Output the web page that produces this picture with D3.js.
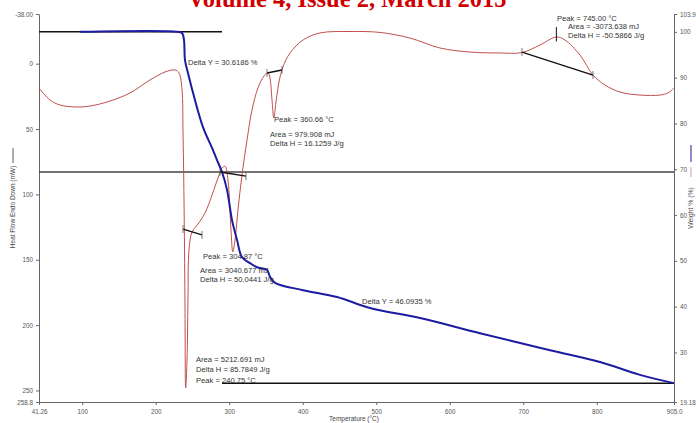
<!DOCTYPE html>
<html>
<head>
<meta charset="utf-8">
<script src="https://cdn.jsdelivr.net/npm/d3@7"></script>
<style>
  body { margin: 0; background: #fff; }
  svg { display: block; }
  text { font-family: "Liberation Sans", Arial, sans-serif; }
</style>
</head>
<body>
<svg id="chart" width="696" height="423"></svg>
<script>
// ---- data ----------------------------------------------------------------
// Heat flow (mW, endo down) vs temperature (°C)
const heatT = [41.26, 56.2, 69.8, 90.2, 110.6, 137.8, 165.0, 192.2, 212.6, 226.2, 231.7, 235.8, 237.1, 238.5, 239.8, 240.75,
  242.6, 243.9, 245.3, 249.4, 257.5, 267.1, 276.6, 284.7, 290.2, 294.3, 298.3, 302.4, 304.87, 307.9, 311.9, 317.4, 324.2,
  331.0, 339.1, 347.3, 352.7, 355.4, 358.2, 360.66, 363.6, 367.7, 373.1, 382.7, 400.4, 423.5, 464.3, 505.1, 545.9,
  586.7, 627.5, 668.3, 698.2, 722.7, 745.0, 756.7, 777.1, 794.8, 811.1, 831.5, 858.7, 885.9, 896.8, 905.0];
const heatFlow = [18.6, 27.8, 31.6, 33.1, 32.4, 28.6, 22.4, 12.5, 6.4, 4.8, 7.1, 20.1, 50.7, 104.3, 180.8, 248.1,
  226.7, 180.8, 142.5, 128.8, 122.7, 114.2, 100.5, 87.5, 79.8, 78.5, 89.0, 127.2, 144.0, 134.9, 111.9, 85.2, 58.4,
  35.4, 18.6, 9.4, 7.1, 11.0, 27.8, 41.6, 29.4, 14.0, 2.5, -8.2, -18.1, -23.5, -24.6, -23.9, -19.6,
  -12.0, -8.9, -8.2, -8.5, -14.3, -20.4, -18.1, -6.6, 8.7, 16.3, 21.7, 24.0, 24.0, 22.4, 18.6];

// Weight % vs temperature (°C)
const weightT = [97.0, 230.0, 236.0, 238.5, 239.8, 243.9, 253.4, 264.3, 277.9, 283.4, 290.2, 297.0, 303.8, 310.6, 317.4,
  328.3, 337.8, 351.4, 355.5, 362.3, 400.4, 446.6, 491.5, 559.5, 641.1, 736.3, 804.3, 858.7, 905.0];
const weightPct = [100.0, 100.0, 99.7, 98.2, 93.9, 91.0, 85.1, 79.2, 74.2, 72.0, 69.4, 65.5, 58.9, 54.6, 50.8,
  49.5, 48.6, 48.0, 46.5, 45.2, 43.6, 42.1, 39.7, 37.5, 34.2, 30.5, 27.9, 25.1, 23.3];

// Integration baselines for the heat-flow peaks: [T1, v1, T2, v2]
const baselines = [
  [237.1, 126.5, 263.0, 131.0],
  [287.5, 82.9, 322.8, 86.0],
  [351.4, 7.1, 371.8, 4.8],
  [698.2, -8.9, 794.8, 8.7]
];

// Weight step levels (Delta Y = 30.6186 %, then 46.0935 %)
const stepLevels = [
  { from: 41.26, to: 290.2, w: 100 },
  { from: 41.26, to: 905.0, w: 100 - 30.6186 },
  { from: 290.2, to: 905.0, w: 100 - 30.6186 - 46.0935 }
];

// Axis ticks
const tempTicks = [41.26, 100, 200, 300, 400, 500, 600, 700, 800, 905.0];
const tempTickLabels = ["41.26", "100", "200", "300", "400", "500", "600", "700", "800", "905.0"];
const heatTicks = [-38, 0, 50, 100, 150, 200, 250, 258.8];
const heatTickLabels = ["-38.00", "0", "50", "100", "150", "200", "250", "258.8"];
const weightTicks = [103.9, 100, 90, 80, 70, 60, 50, 40, 30, 19.18];
const weightTickLabels = ["103.9", "100", "90", "80", "70", "60", "50", "40", "30", "19.18"];

// Peak annotations: anchor temperature (°C) / heat flow (mW) of the first line, line gap (px)
const notes = [
  { T: 243.9, v: 1.0, gap: 8.5, lines: ["Delta Y = 30.6186 %"] },
  { T: 360.9, v: 44.6, gap: 8.5, lines: ["Peak = 360.66 °C"] },
  { T: 355.5, v: 56.1, gap: 8.5, lines: ["Area = 979.908 mJ", "Delta H = 16.1259 J/g"] },
  { T: 264.3, v: 149.4, gap: 8.5, lines: ["Peak = 304.87 °C"] },
  { T: 260.3, v: 160.1, gap: 9.5, lines: ["Area = 3040.677 mJ", "Delta H = 50.0441 J/g"] },
  { T: 480.6, v: 183.9, gap: 8.5, lines: ["Delta Y = 46.0935 %"] },
  { T: 254.8, v: 228.0, gap: 10.5, lines: ["Area = 5212.691 mJ", "Delta H = 85.7849 J/g", "Peak = 240.75 °C"] },
  { T: 745.8, v: -32.6, gap: 8.5, lines: ["Peak = 745.00 °C"] },
  { T: 760.8, v: -26.5, gap: 8.5, lines: ["Area = -3073.638 mJ", "Delta H = -50.5866 J/g"] }
];

// ---- scales ----------------------------------------------------------------
const svg = d3.select("#chart");
const L = 39, R = 674, T0 = 14, B = 402;

const x = d3.scaleLinear().domain([41.26, 905.0]).range([L, R]);
const yHeat = d3.scaleLinear().domain([-38, 258.8]).range([T0, B]);
const yW = d3.scaleLinear().domain([19.18, 103.9]).range([B, T0]);

// ---- header --------------------------------------------------------------
svg.append("text")
  .attr("x", 347).attr("y", 7)
  .attr("text-anchor", "middle")
  .style("font-family", "'Liberation Serif', 'Times New Roman', serif")
  .style("font-weight", "bold")
  .style("font-size", "24.5px")
  .attr("fill", "#d00000")
  .text("Volume 4, Issue 2, March 2015");

// ---- axes ------------------------------------------------------------------
const axisStyle = g => {
  g.selectAll("path.domain").attr("stroke", "#666").attr("stroke-width", 1);
  g.selectAll(".tick line").attr("stroke", "#666");
  g.selectAll(".tick text").attr("fill", "#555").style("font-size", "6.3px")
    .style("font-family", "'Liberation Sans', Arial, sans-serif");
};

svg.append("g").attr("transform", `translate(${L},0)`)
  .call(d3.axisLeft(yHeat).tickValues(heatTicks).tickSize(3).tickSizeOuter(0)
    .tickFormat((d, i) => heatTickLabels[i]))
  .call(axisStyle);

svg.append("g").attr("transform", `translate(${R},0)`)
  .call(d3.axisRight(yW).tickValues(weightTicks).tickSize(3).tickSizeOuter(0)
    .tickFormat((d, i) => weightTickLabels[i]))
  .call(axisStyle);

svg.append("g").attr("transform", `translate(0,${B})`)
  .call(d3.axisBottom(x).tickValues(tempTicks).tickSize(3).tickSizeOuter(0)
    .tickFormat((d, i) => tempTickLabels[i]))
  .call(axisStyle)
  .call(g => g.selectAll(".tick text").attr("dy", "0.9em"));

// axis titles
svg.append("text")
  .attr("x", 354).attr("y", 421).attr("text-anchor", "middle")
  .attr("fill", "#444").style("font-size", "6.5px")
  .text("Temperature (°C)");

svg.append("text")
  .attr("transform", "translate(15,207) rotate(-90)")
  .attr("text-anchor", "middle").attr("fill", "#444").style("font-size", "6.5px")
  .text("Heat Flow Endo Down (mW)");
svg.append("line").attr("x1", 13).attr("x2", 13).attr("y1", 148).attr("y2", 163)
  .attr("stroke", "#333").attr("stroke-width", 0.8);

svg.append("text")
  .attr("transform", "translate(693,208) rotate(-90)")
  .attr("text-anchor", "middle").attr("fill", "#444").style("font-size", "6.8px")
  .text("Weight % (%)");
svg.append("line").attr("x1", 691).attr("x2", 691).attr("y1", 145).attr("y2", 162)
  .attr("stroke", "#1c1c9c").attr("stroke-width", 1);
svg.append("line").attr("x1", 691).attr("x2", 691).attr("y1", 167).attr("y2", 177)
  .attr("stroke", "#d9a0a0").attr("stroke-width", 1);

// ---- weight step levels ----------------------------------------------------
svg.append("g").selectAll("line").data(stepLevels).join("line")
  .attr("x1", d => x(d.from)).attr("x2", d => x(d.to))
  .attr("y1", d => yW(d.w)).attr("y2", d => yW(d.w))
  .attr("stroke", (d, i) => i === 1 ? "#444" : "#111")
  .attr("stroke-width", 1.5);

// ---- heat flow curve ------------------------------------------------------
const heatLine = d3.line()
  .x((d, i) => x(heatT[i])).y((d, i) => yHeat(heatFlow[i]))
  .curve(d3.curveCatmullRom.alpha(0.5));
svg.append("path").datum(heatFlow)
  .attr("d", heatLine)
  .attr("fill", "none").attr("stroke", "#c0504d").attr("stroke-width", 1);

// ---- weight curve ----------------------------------------------------------
const weightLine = d3.line()
  .x((d, i) => x(weightT[i])).y((d, i) => yW(weightPct[i]))
  .curve(d3.curveCatmullRom.alpha(0.5));
svg.append("path").datum(weightPct)
  .attr("d", weightLine)
  .attr("fill", "none").attr("stroke", "#1c1ca0").attr("stroke-width", 2);

// ---- peak baselines with end ticks -----------------------------------------
const bl = svg.append("g");
baselines.forEach(b => {
  bl.append("line")
    .attr("x1", x(b[0])).attr("y1", yHeat(b[1])).attr("x2", x(b[2])).attr("y2", yHeat(b[3]))
    .attr("stroke", "#111").attr("stroke-width", 1.4);
  [[b[0], b[1]], [b[2], b[3]]].forEach(p => {
    bl.append("line")
      .attr("x1", x(p[0])).attr("x2", x(p[0]))
      .attr("y1", yHeat(p[1]) - 4).attr("y2", yHeat(p[1]) + 4)
      .attr("stroke", "#555").attr("stroke-width", 0.8);
  });
});
// peak marker at 745 °C
svg.append("line")
  .attr("x1", x(745)).attr("x2", x(745))
  .attr("y1", yHeat(-28)).attr("y2", yHeat(-17))
  .attr("stroke", "#111").attr("stroke-width", 1);

// ---- annotation texts ------------------------------------------------------
notes.forEach(n => {
  const t = svg.append("text")
    .attr("x", x(n.T)).attr("y", yHeat(n.v))
    .attr("fill", "#333").style("font-size", "7.6px");
  n.lines.forEach((s, i) => {
    t.append("tspan").attr("x", x(n.T)).attr("dy", i === 0 ? 0 : n.gap).text(s);
  });
});
</script>
</body>
</html>
